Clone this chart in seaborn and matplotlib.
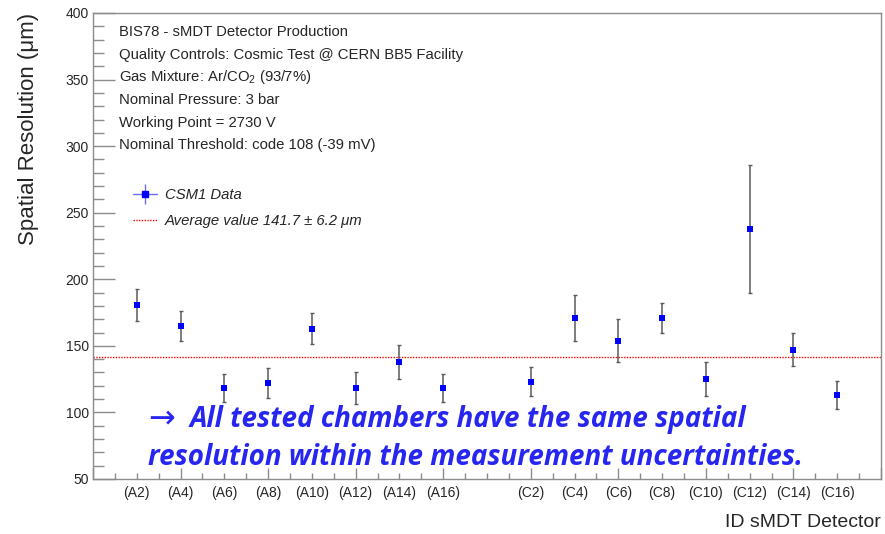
import numpy as np
import pandas as pd
import seaborn as sns
import matplotlib.pyplot as plt
from matplotlib.ticker import MultipleLocator
from matplotlib.lines import Line2D
from matplotlib.legend_handler import HandlerTuple

# chambers, values (um)
a_side = ["(A2)", "(A4)", "(A6)", "(A8)", "(A10)", "(A12)", "(A14)", "(A16)"]
c_side = ["(C2)", "(C4)", "(C6)", "(C8)", "(C10)", "(C12)", "(C14)", "(C16)"]
a_res = [181, 165, 118, 122, 163, 118, 138, 118]
a_err = [12, 11.5, 10.5, 11.5, 11.4, 12, 13, 10.5]
c_res = [123, 171, 154, 171, 125, 238, 147, 113]
c_err = [11, 17, 16, 11, 13, 48, 12.3, 10.4]
avg_res = 141.7
avg_err = 6.2

info_lines = [
    "BIS78 - sMDT Detector Production",
    "Quality Controls: Cosmic Test @ CERN BB5 Facility",
    r"Gas Mixture: Ar/CO$_2$ (93/7%)",
    "Nominal Pressure: 3 bar",
    "Working Point = 2730 V",
    "Nominal Threshold: code 108 (-39 mV)",
]

# A side in slots 0..7, one empty slot, C side in 9..16
pos = list(np.arange(len(a_side))) + list(np.arange(len(c_side)) + len(a_side) + 1)
df = pd.DataFrame({
    "chamber": a_side + c_side,
    "pos": pos,
    "res": a_res + c_res,
    "err": a_err + c_err,
})

sns.set_style("ticks")
plt.rcParams["font.family"] = ["Liberation Sans", "DejaVu Sans"]
plt.rcParams["mathtext.fontset"] = "custom"
plt.rcParams["mathtext.rm"] = "Liberation Sans"
plt.rcParams["mathtext.it"] = "Liberation Sans:italic"

fig = plt.figure(figsize=(8.85, 5.34), dpi=100)
ax = fig.add_axes([93 / 885, 55 / 534, 788 / 885, 466 / 534])

frame = "#8c8c8c"
ax.axhline(avg_res, color="red", ls=(0, (1, 1)), lw=1, zorder=1)
ax.errorbar(df["pos"], df["res"], yerr=df["err"], fmt="none", ecolor="#5a5a5a",
            elinewidth=1.1, capsize=1.5, capthick=1, zorder=2)
sns.scatterplot(data=df, x="pos", y="res", marker="s", color="#0000ff", s=16,
                linewidth=0, zorder=3, ax=ax)

ax.set_xlim(-1, 17)
ax.set_ylim(50, 400)
ax.set_xticks(np.arange(-1, 18, 2))
ax.set_xticklabels([])
ax.xaxis.set_minor_locator(MultipleLocator(0.5))
ax.yaxis.set_major_locator(MultipleLocator(50))
ax.yaxis.set_minor_locator(MultipleLocator(10))
ax.tick_params(axis="both", which="both", direction="in", color=frame, width=1,
               top=False, right=False)
ax.tick_params(axis="y", which="major", length=15.8, labelsize=10, pad=3)
ax.tick_params(axis="y", which="minor", length=7.9)
ax.tick_params(axis="x", which="major", length=7.9)
ax.tick_params(axis="x", which="minor", length=4.3)
for sp in ax.spines.values():
    sp.set_color(frame)
    sp.set_linewidth(1)

sec = ax.secondary_xaxis("bottom")
sec.set_xticks(df["pos"], df["chamber"])
sec.tick_params(length=0, labelsize=10, pad=5)
sec.spines["bottom"].set_visible(False)

ax.set_xlabel("ID sMDT Detector", loc="right", fontsize=14, labelpad=22)
ax.set_ylabel("Spatial Resolution (\u03bcm)", loc="top", fontsize=16, labelpad=19)

for i, line in enumerate(info_lines):
    ax.text(0.033, 0.959 - i * 0.0485, line, transform=ax.transAxes,
            fontsize=10.7, va="center", ha="left")

data_handle = (
    Line2D([], [], color="#6b6bff", lw=1),
    Line2D([], [], ls="none", marker="|", ms=14, mew=1, color="#6b6bff"),
    Line2D([], [], ls="none", marker="s", ms=4, color="#0000ff"),
)
avg_handle = Line2D([], [], color="red", ls=(0, (1, 1)), lw=1)
ax.legend([data_handle, avg_handle],
          ["CSM1 Data", "Average value %.1f \u00b1 %.1f \u03bcm" % (avg_res, avg_err)],
          handler_map={tuple: HandlerTuple(ndivide=1)},
          loc="upper left", bbox_to_anchor=(0.0508, 0.625), frameon=False,
          borderpad=0, borderaxespad=0, handlelength=1.6, handletextpad=0.55,
          labelspacing=0.85, prop={"size": 10.7, "style": "italic"})

note_color = "#2626f0"
note_kw = dict(transform=ax.transAxes, color=note_color, fontsize=20,
               fontweight="bold", fontstyle="italic", va="baseline", ha="left",
               family=["Open Sans", "DejaVu Sans"])
ax.text(0.0698, 0.1116, "\u2192", transform=ax.transAxes, color=note_color,
        fontsize=23, va="baseline", ha="left", family="DejaVu Sans")
ax.text(0.123, 0.1116, "All tested chambers have the same spatial", **note_kw)
ax.text(0.0698, 0.030, "resolution within the measurement uncertainties.", **note_kw)

fig.savefig("out.png", dpi=100)
